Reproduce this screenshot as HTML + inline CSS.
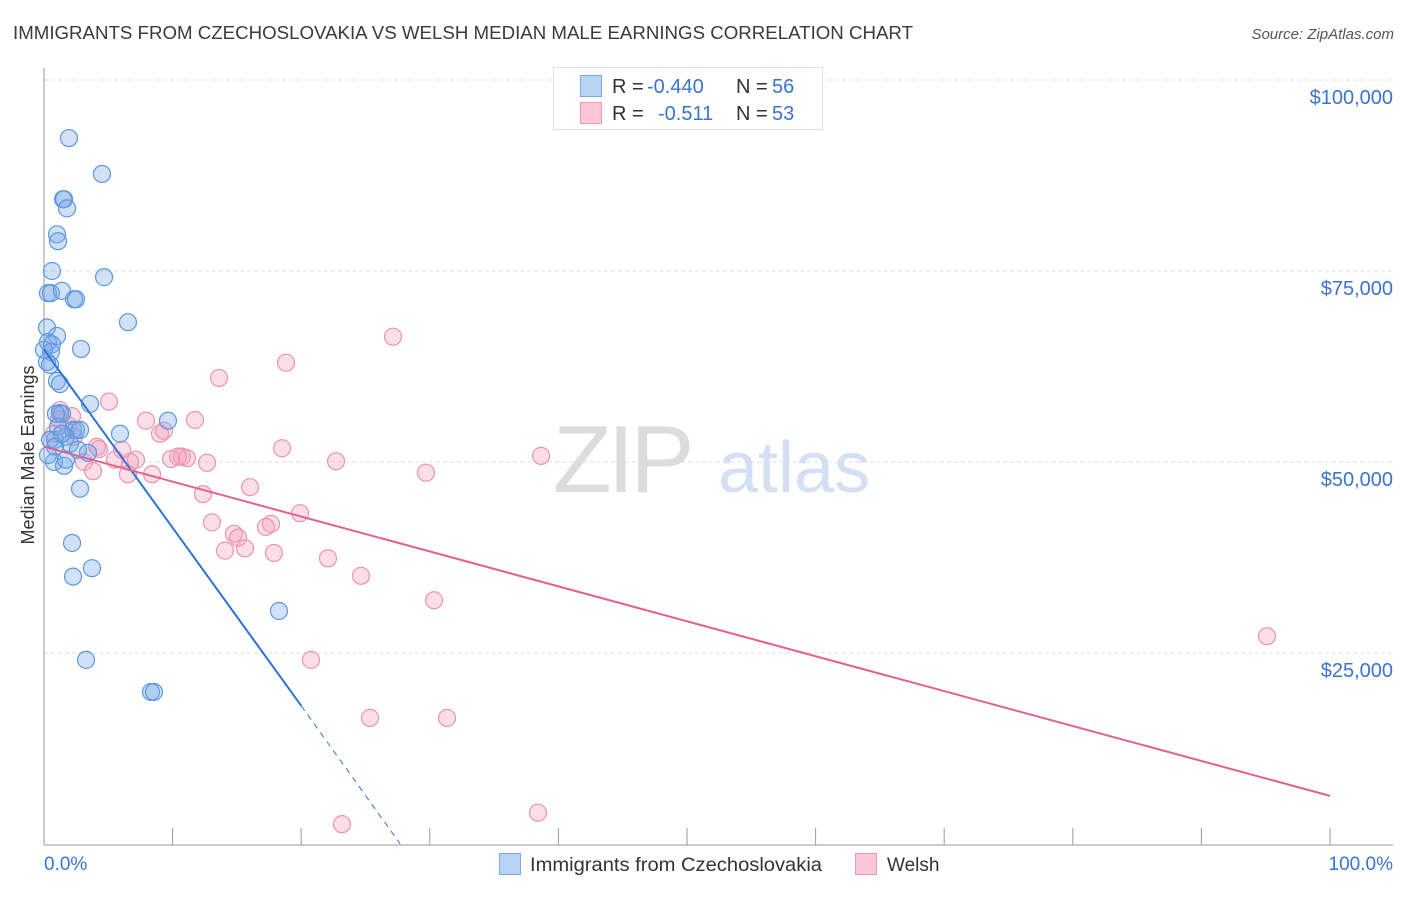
<!DOCTYPE html>
<html><head><meta charset="utf-8"><style>
body{margin:0;background:#fff;font-family:"Liberation Sans",sans-serif}
svg text{font-family:"Liberation Sans",sans-serif}
</style></head><body>
<svg id="chart" width="1406" height="892" xmlns="http://www.w3.org/2000/svg">
<text x="13" y="39" font-size="18" fill="#3a3a3a" textLength="900" lengthAdjust="spacingAndGlyphs">IMMIGRANTS FROM CZECHOSLOVAKIA VS WELSH MEDIAN MALE EARNINGS CORRELATION CHART</text>
<text x="1394" y="39" font-size="15" fill="#555" text-anchor="end" font-style="italic">Source: ZipAtlas.com</text>
<g>
<text x="553" y="492" font-size="96" fill="#dcdcdc" font-family="Liberation Serif" letter-spacing="-4">ZIP</text>
<text x="718" y="492" font-size="72" fill="#d3e0f3">atlas</text>
</g>
<g id="grid"></g>
<line x1="44" y1="68" x2="44" y2="845" stroke="#999" stroke-width="1"/>
<line x1="44" y1="845" x2="1393" y2="845" stroke="#999" stroke-width="1"/>
<g id="ticks"></g>
<text transform="translate(34,455) rotate(-90)" font-size="18" fill="#333" text-anchor="middle">Median Male Earnings</text>
<text x="44" y="870" font-size="19" fill="#3a74d0">0.0%</text>
<text x="1393" y="870" font-size="19" fill="#3a74d0" text-anchor="end">100.0%</text>
<g id="pinkPts"></g>
<g id="bluePts"></g>
<g id="lines"></g>
<g>
<rect x="553.5" y="67.5" width="269" height="62" fill="#fff" stroke="#ddd"/>
<rect x="580.5" y="75.5" width="21" height="21" fill="#b8d3f4" stroke="#7aaae6"/>
<rect x="580.5" y="102.5" width="21" height="21" fill="#fbc6d6" stroke="#ee9ab5"/>
<text x="612" y="93" font-size="20" fill="#333">R = <tspan x="647" fill="#3a74d0">-0.440</tspan><tspan x="736">N = </tspan><tspan x="772" fill="#3a74d0">56</tspan></text>
<text x="612" y="120" font-size="20" fill="#333">R = <tspan x="658" fill="#3a74d0">-0.511</tspan><tspan x="736">N = </tspan><tspan x="772" fill="#3a74d0">53</tspan></text>
</g>
<g>
<rect x="499.5" y="853.5" width="21" height="21" fill="#b8d3f4" stroke="#7aaae6"/>
<text x="530" y="871" font-size="19" fill="#333" textLength="292" lengthAdjust="spacingAndGlyphs">Immigrants from Czechoslovakia</text>
<rect x="855.5" y="853.5" width="21" height="21" fill="#fbc6d6" stroke="#ee9ab5"/>
<text x="887" y="871" font-size="19" fill="#333">Welsh</text>
</g>
</svg>
<script>
const yTicks=[25000,50000,75000,100000];
const yTickLabels=["$25,000","$50,000","$75,000","$100,000"];
const xTicks=[0,10,20,30,40,50,60,70,80,90,100];
const blueX=[1.94,4.51,1.48,1.56,1.79,1.01,1.09,0.62,4.67,0.31,0.54,1.40,2.33,2.49,6.53,0.23,1.01,0.31,0.62,2.88,0.54,0.23,0.47,1.01,1.24,3.58,1.24,1.40,1.09,2.26,2.49,5.91,9.64,0.86,1.71,0.47,2.02,0.86,3.42,2.64,0.78,1.56,2.80,2.18,3.73,2.26,18.27,3.27,8.32,8.55,0.31,0.93,1.40,2.80,1.71,0];
const blueY=[92.4,87.7,84.4,84.4,83.2,79.8,78.9,75.0,74.2,72.1,72.1,72.4,71.3,71.3,68.3,67.6,66.5,65.7,65.4,64.8,64.4,63.1,62.7,60.6,60.2,57.6,56.4,56.3,54.6,54.2,54.2,53.7,55.4,52.9,53.3,52.9,52.4,52.0,51.2,51.6,50.0,49.5,46.5,39.4,36.1,35.0,30.5,24.1,19.9,19.9,50.9,56.3,53.7,54.2,50.3,64.7];
const pinkX=[27.14,18.82,13.61,5.05,1.24,1.17,2.18,7.93,11.74,9.33,9.02,0.78,2.33,4.12,4.28,6.07,18.51,10.73,11.12,10.42,9.88,7.15,5.52,6.69,12.68,22.71,3.11,38.65,3.81,6.53,8.40,29.70,16.02,12.36,19.91,13.06,17.65,14.77,15.09,17.26,14.07,15.63,17.88,22.08,24.65,30.33,95.10,20.76,25.35,31.34,23.17,38.41,1.87];
const pinkY=[66.4,63.0,61.0,57.9,56.8,55.6,56.0,55.4,55.5,54.1,53.7,53.7,53.3,52.0,51.7,51.6,51.8,50.7,50.5,50.7,50.4,50.3,50.3,50.0,49.9,50.1,50.0,50.8,48.8,48.4,48.4,48.6,46.7,45.8,43.3,42.1,41.9,40.6,40.1,41.5,38.4,38.7,38.1,37.4,35.1,31.9,27.2,24.1,16.5,16.5,2.6,4.1,54.8];
const blueTrendX=[0,20,27.7];
const blueTrendY=[64.7,18.1,0];
const pinkTrendX=[0,100];
const pinkTrendY=[52.0,6.3];
const NS="http://www.w3.org/2000/svg";
const xs=p=>44+p*12.86;
const ys=v=>844-v*7.64; // v in thousands
function mk(tag,attrs,parent){const e=document.createElementNS(NS,tag);for(const k in attrs)e.setAttribute(k,attrs[k]);parent.appendChild(e);return e;}
const grid=document.getElementById('grid');
yTicks.forEach((t,i)=>{
 const l=mk('line',{x1:44,x2:1393,y1:ys(t/1000),y2:ys(t/1000),stroke:'#ddd','stroke-dasharray':'4,3'},grid);
 
 
 const tx=mk('text',{x:1393,y:ys(t/1000)+24,'font-size':20,fill:'#3a74d0','text-anchor':'end'},grid);
 tx.textContent=yTickLabels[i];
 
 
});
const tg=document.getElementById('ticks');
xTicks.forEach(t=>{
 const l=mk('line',{x1:xs(t),x2:xs(t),y1:828,y2:845,stroke:'#999'},tg);
 
 
});
function pts(X,Y,g,fill,stroke,name){
 X.forEach((x,i)=>{
  const c=mk('circle',{cx:xs(x),cy:ys(Y[i]),r:8.5,fill:fill,stroke:stroke,'stroke-width':1.2},g);
  
  
 });
}
pts(pinkX,pinkY,document.getElementById('pinkPts'),'rgba(244,160,188,0.35)','#eb93b1','welsh-point');
pts(blueX,blueY,document.getElementById('bluePts'),'rgba(120,170,235,0.35)','#5d97dd','czech-point');
const lg=document.getElementById('lines');
const b1=mk('line',{x1:xs(blueTrendX[0]),y1:ys(blueTrendY[0]),x2:xs(blueTrendX[1]),y2:ys(blueTrendY[1]),stroke:'#2f72d6','stroke-width':2},lg);


const b2=mk('line',{x1:xs(blueTrendX[1]),y1:ys(blueTrendY[1]),x2:xs(blueTrendX[2]),y2:ys(blueTrendY[2]),stroke:'#2f72d6','stroke-width':1,'stroke-dasharray':'6,5'},lg);


const p1=mk('line',{x1:xs(pinkTrendX[0]),y1:ys(pinkTrendY[0]),x2:xs(pinkTrendX[1]),y2:ys(pinkTrendY[1]),stroke:'#e4608e','stroke-width':2},lg);


</script>
</body></html>
